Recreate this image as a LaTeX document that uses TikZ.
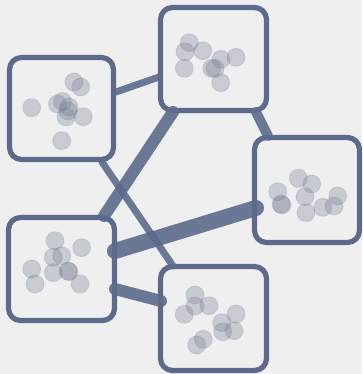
\documentclass[tikz,border=0pt]{standalone}
\usetikzlibrary{positioning}
\definecolor{bg}{HTML}{EFEFEF}
\definecolor{slate}{HTML}{5C6B8C}
\definecolor{dot}{HTML}{6F7A8E}
\tikzset{
  box/.style={draw=slate, line width=5.2pt, rounded corners=12pt, fill=bg},
  link/.style={draw=slate, draw opacity=0.9, line cap=round},
  dotc/.style={fill=dot, fill opacity=0.3, draw=dot, draw opacity=0.22, line width=0.8pt}
}
\begin{document}
\begin{tikzpicture}[x=1pt,y=-1pt]
\fill[bg] (0,0) rectangle (362,374);
\useasboundingbox (0,0) rectangle (362,374);
% boxes
\draw[box] (9.5,57.5) rectangle (113.5,159.5);
\draw[box] (160.5,7.5) rectangle (266.5,110.5);
\draw[box] (254.5,137.5) rectangle (359.5,242.5);
\draw[box] (8.5,217.5) rectangle (114.5,320.5);
\draw[box] (160.5,266.5) rectangle (266.5,370.5);
% anchor coordinates
\coordinate (ab1) at (116,92);  \coordinate (ab2) at (159,77);
\coordinate (ae1) at (102,162); \coordinate (ae2) at (173,266);
\coordinate (bd1) at (173,112); \coordinate (bd2) at (104,216);
\coordinate (bc1) at (256,112); \coordinate (bc2) at (268,136);
\coordinate (dc1) at (115,251); \coordinate (dc2) at (256,208);
\coordinate (de1) at (115,289); \coordinate (de2) at (161,301);
% links
\draw[link, line width=7pt] (ab1) -- (ab2);
\draw[link, line width=7pt] (ae1) -- (ae2);
\draw[link, line width=12pt] (bd1) -- (bd2);
\draw[link, line width=10pt] (bc1) -- (bc2);
\draw[link, line width=16pt] (dc1) -- (dc2);
\draw[link, line width=12pt] (de1) -- (de2);
% dots box A
\foreach \x/\y in {31.7/107.7, 74/82, 80.7/87, 57.5/104, 62.5/101.5, 69/107, 68/111, 66/117, 83.3/116.7, 61.7/140.7}
  \draw[dotc] (\x,\y) circle (9);
% dots box B
\foreach \x/\y in {189.3/42.7, 185/51.7, 202.7/50.7, 184.3/68.3, 221/59.3, 236/57.3, 211.7/68.3, 215/68.5, 220.7/82.7}
  \draw[dotc] (\x,\y) circle (9);
% dots box C
\foreach \x/\y in {298.3/178.3, 311.7/184, 277.7/191.7, 281/204, 282/205, 305/196.7, 306/212.7, 322.7/207.3, 337.7/196, 334/206}
  \draw[dotc] (\x,\y) circle (9);
% dots box D
\foreach \x/\y in {55/240.7, 81.7/247.7, 53.3/257.3, 61.7/255.7, 31.7/269, 35/284, 53.3/272.7, 69/271.7, 68/271, 80/284}
  \draw[dotc] (\x,\y) circle (9);
% dots box E
\foreach \x/\y in {195/295, 209/305.7, 195/306, 184.3/314.3, 236/314, 221.7/322.7, 222.7/331.7, 234/330.7, 203.3/339.3, 196.7/345}
  \draw[dotc] (\x,\y) circle (9);
\end{tikzpicture}
\end{document}
